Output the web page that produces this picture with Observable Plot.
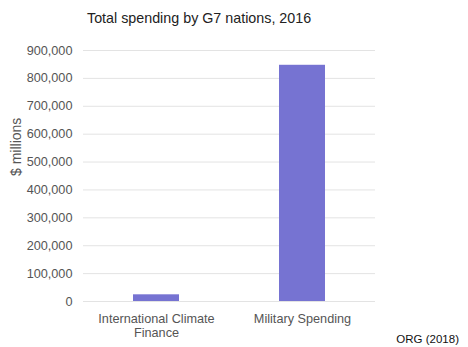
<!DOCTYPE html>
<html>
<head>
<meta charset="utf-8">
<script src="https://cdn.jsdelivr.net/npm/d3@7"></script>
<script src="https://cdn.jsdelivr.net/npm/@observablehq/plot@0.6"></script>
<style>
  html, body { margin: 0; padding: 0; background: #fff; }
  #wrap { position: relative; width: 468px; height: 347px; font-family: "Liberation Sans", Arial, sans-serif; }
  #title { position: absolute; left: 87px; top: 10px; font-size: 14.3px; color: #222; white-space: nowrap; }
  #caption { position: absolute; right: 9px; top: 333px; font-size: 11.5px; color: #111; white-space: nowrap; }
  #chart { position: absolute; left: 0; top: 0; }
</style>
</head>
<body>
<div id="wrap">
  <div id="chart"></div>
  <div id="title">Total spending by G7 nations, 2016</div>
  <div id="caption">ORG (2018)</div>
</div>
<script>
const categories = ["International Climate Finance", "Military Spending"];
const categoryLabels = ["International Climate\nFinance", "Military Spending"];
const values = [24000, 847000];
const yTicks = [0, 100000, 200000, 300000, 400000, 500000, 600000, 700000, 800000, 900000];

const data = categories.map((c, i) => ({category: c, value: values[i]}));
const labelOf = new Map(categories.map((c, i) => [c, categoryLabels[i]]));

const chart = Plot.plot({
  width: 468,
  height: 347,
  marginLeft: 83,
  marginRight: 93,
  marginTop: 50,
  marginBottom: 46,
  style: {fontFamily: '"Liberation Sans", Arial, sans-serif', fontSize: "12.7px", background: "#fff"},
  x: {domain: categories, paddingInner: 0.685, paddingOuter: 0.3425},
  y: {domain: [0, 900000]},
  marks: [
    Plot.gridY(yTicks, {stroke: "#e3e3e3", strokeOpacity: 1, strokeWidth: 1}),
    Plot.barY(data, {x: "category", y: "value", fill: "#7673d2"}),
    Plot.axisY({ticks: yTicks, tickSize: 0, tickPadding: 11, tickFormat: d3.format(","), fill: "#555", fontSize: "12.7px", label: null}),
    Plot.axisX({tickSize: 0, tickPadding: 12, tickFormat: d => labelOf.get(d), fill: "#555", fontSize: "12.7px", lineHeight: 1.1, label: null}),
    Plot.text(["$ millions"], {frameAnchor: "left", dx: -67, rotate: -90, fontSize: 14, fill: "#555"})
  ]
});
document.getElementById("chart").appendChild(chart);
</script>
</body>
</html>
